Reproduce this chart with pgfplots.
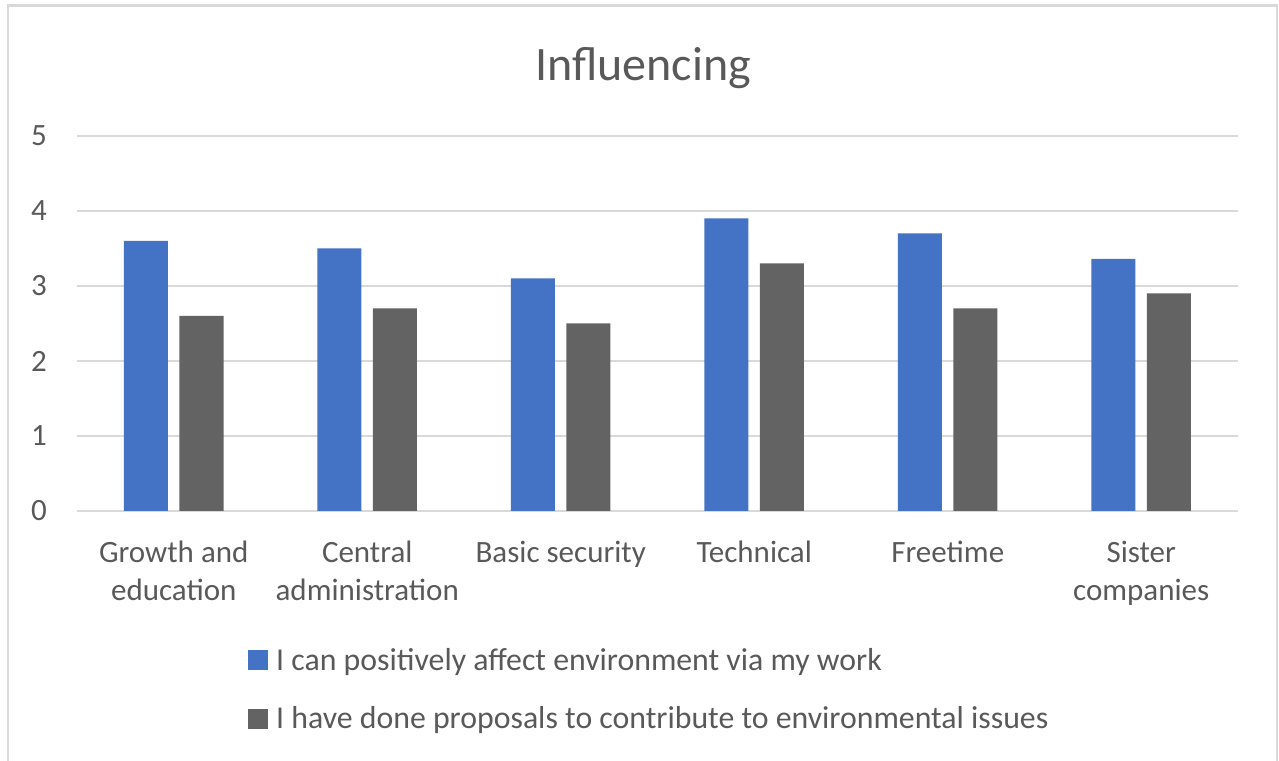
\documentclass[border=0pt]{standalone}
\usepackage{fontspec}
\setmainfont{Carlito}
\usepackage{pgfplots}
\pgfplotsset{compat=1.18}
\definecolor{cblue}{HTML}{4472C4}
\definecolor{cgray}{HTML}{636363}
\definecolor{cgrid}{HTML}{D9D9D9}
\definecolor{ctext}{HTML}{595959}
\begin{document}
\begin{tikzpicture}
\path[use as bounding box] (0pt,0pt) rectangle (1279pt,760pt);
\draw[cgrid, line width=2.5pt] (8pt,-20pt) -- (8pt,754.5pt) -- (1277pt,754.5pt) -- (1277pt,-20pt);
\node[anchor=base, text=ctext, font=\fontsize{48}{58}\selectfont, inner sep=0pt] at (643pt,679pt) {Influencing};
\begin{axis}[
  at={(77pt,249pt)}, anchor=south west,
  scale only axis, width=1161pt, height=375pt,
  ybar,
  ymin=0, ymax=5, ytick={0,1,2,3,4,5},
  xmin=-0.5, xmax=5.5, xtick={0,1,2,3,4,5},
  xticklabels={{Growth and\\education},{Central\\administration},{Basic security},{Technical},{Freetime},{Sister\\companies}},
  ymajorgrids, xmajorgrids=false,
  major grid style={cgrid, line width=2pt},
  axis line style={draw=none},
  tick style={draw=none},
  /pgf/number format/assume math mode=true,
  ticklabel style={font=\fontsize{31}{38}\selectfont, text=ctext},
  xticklabel style={align=center, anchor=north, inner sep=0pt, yshift=-26pt},
  yticklabel style={anchor=east, inner sep=0pt, xshift=-30pt},
  legend image code/.code={\fill[#1] (0pt,-10pt) rectangle (20pt,10pt);},
  legend cell align=left,
  legend style={at={(0.1473,-0.3707)}, anchor=north west, draw=none, fill=none,
    inner sep=0pt, row sep=38.5pt, column sep=8pt,
    font=\fontsize{31.8}{38}\selectfont, text=ctext,
    nodes={inner sep=0pt, text height=20pt, text depth=0pt}},
]
\addplot[fill=cblue, draw=none, bar width=44pt, bar shift=-27.75pt] coordinates {(0,3.6) (1,3.5) (2,3.1) (3,3.9) (4,3.7) (5,3.36)};
\addplot[fill=cgray, draw=none, bar width=44pt, bar shift=27.75pt] coordinates {(0,2.6) (1,2.7) (2,2.5) (3,3.3) (4,2.7) (5,2.9)};
\legend{I can positively affect environment via my work, I have done proposals to contribute to environmental issues}
\end{axis}
\end{tikzpicture}
\end{document}
